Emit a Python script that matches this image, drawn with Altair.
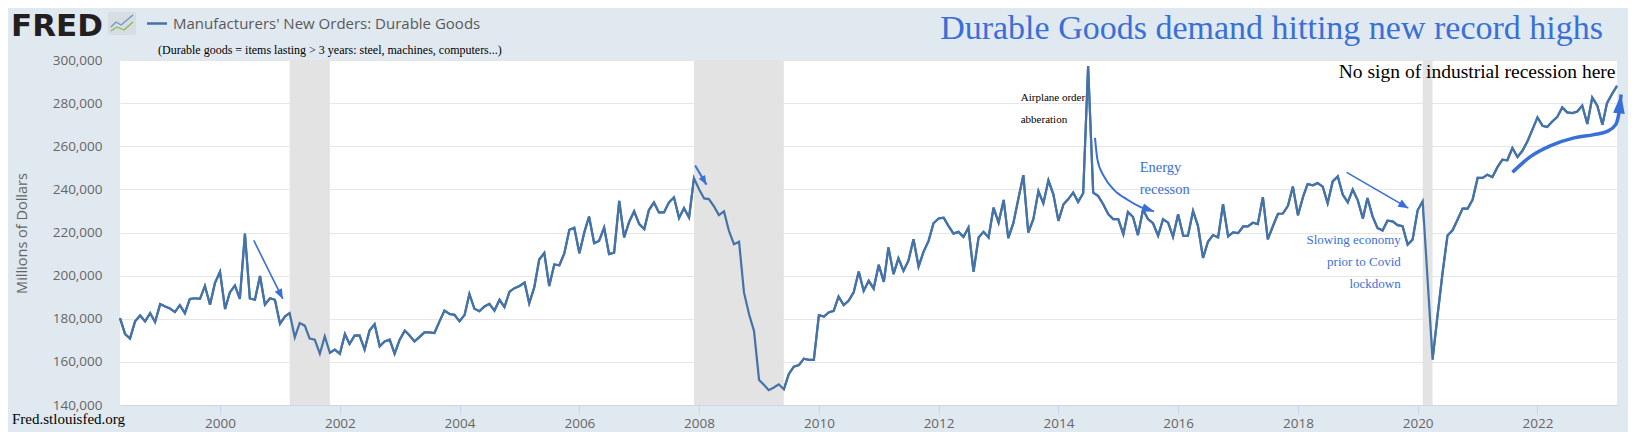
import math
import altair as alt
import pandas as pd

# ---------------- data (thousands of millions of dollars, monthly, SA) ----------------
v1998 = [180.3, 172.9, 170.8, 178.8, 181.5, 178.8, 182.6, 178.5]  # May-Dec
v1999 = [186.8, 185.7, 184.8, 183.1, 186.3, 182.6, 189.2, 189.5, 189.2, 195.2, 186.5, 196.5]
v2000 = [201.8, 184.5, 192.2, 195.4, 189.2, 219.5, 189.4, 188.8, 199.8, 186.5, 189.5, 188.8]
v2001 = [177.7, 181.1, 182.6, 171.4, 178.0, 176.8, 170.8, 170.3, 163.8, 171.8, 164.2, 165.7]
v2002 = [163.7, 172.9, 168.3, 172.2, 172.3, 165.7, 174.5, 177.5, 167.2, 169.5, 170.3, 163.8]
v2003 = [170.3, 174.5, 172.3, 169.5, 171.5, 173.7, 173.7, 173.4, 178.8, 183.8, 182.2, 181.8]
v2004 = [178.8, 181.8, 191.5, 184.6, 183.5, 185.7, 186.9, 183.8, 188.8, 185.4, 192.6, 194.2]
v2005 = [195.2, 196.8, 187.2, 194.6, 207.5, 210.5, 195.2, 205.2, 204.8, 210.3, 221.3, 222.2]
v2006 = [210.4, 220.3, 227.4, 215.1, 216.1, 222.3, 210.0, 210.7, 234.7, 217.7, 225.0, 229.8]
v2007 = [223.9, 221.6, 230.4, 233.9, 229.3, 229.3, 233.9, 236.3, 226.7, 231.3, 227.0, 245.2]
v2008 = [240.1, 235.8, 235.5, 232.1, 228.1, 229.8, 220.8, 214.6, 215.7, 192.2, 182.1, 174.4]
v2009 = [151.6, 149.3, 146.9, 148.1, 149.6, 147.3, 154.3, 157.8, 158.5, 161.5, 160.9, 160.9]
v2010 = [181.7, 181.0, 182.9, 183.7, 190.3, 186.3, 188.3, 192.2, 201.9, 192.9, 197.6, 194.0]
v2011 = [205.0, 197.1, 213.1, 200.7, 208.0, 202.2, 206.9, 216.9, 204.2, 211.0, 216.1, 224.3]
v2012 = [226.5, 226.9, 223.1, 219.5, 220.3, 218.0, 222.3, 201.8, 217.7, 220.3, 217.7, 231.5]
v2013 = [224.6, 235.1, 217.4, 224.3, 235.4, 246.6, 220.0, 226.2, 239.2, 233.5, 244.2, 237.7]
v2014 = [225.4, 233.1, 235.4, 238.5, 234.2, 238.2, 297.2, 238.5, 236.9, 233.1, 228.5, 226.2]
v2015 = [226.2, 219.2, 229.5, 227.2, 218.8, 230.5, 226.2, 224.3, 218.5, 226.2, 224.6, 218.0]
v2016 = [228.5, 218.5, 218.5, 230.0, 223.1, 208.2, 215.7, 218.8, 217.7, 233.1, 218.2, 220.0]
v2017 = [219.7, 222.8, 222.8, 224.5, 223.9, 236.4, 216.8, 222.9, 228.7, 228.8, 232.4, 241.3]
v2018 = [228.0, 236.5, 242.5, 241.9, 242.9, 241.3, 233.6, 243.7, 246.0, 237.6, 234.0, 239.9]
v2019 = [234.9, 226.5, 236.0, 227.5, 222.1, 220.9, 225.5, 225.2, 223.4, 222.9, 214.4, 216.7]
v2020 = [230.3, 234.5, 199.0, 161.0, 181.2, 201.3, 218.6, 221.0, 226.0, 231.1, 231.1, 235.2]
v2021 = [245.3, 245.3, 246.8, 245.7, 250.2, 253.8, 253.5, 259.2, 255.0, 257.9, 262.3, 267.7]
v2022 = [273.4, 269.5, 268.9, 271.5, 273.5, 278.0, 275.7, 275.4, 276.1, 278.9, 270.3, 282.6]
v2023 = [278.8, 270.0, 280.0, 284.3, 288.0]  # Jan-May

series_k = (v1998 + v1999 + v2000 + v2001 + v2002 + v2003 + v2004 + v2005 + v2006
            + v2007 + v2008 + v2009 + v2010 + v2011 + v2012 + v2013 + v2014 + v2015
            + v2016 + v2017 + v2018 + v2019 + v2020 + v2021 + v2022 + v2023)
first_month = "1998-05-01"

# recessions (NBER shading)
rec_start = ["2001-03-01", "2007-12-01", "2020-02-01"]
rec_end = ["2001-11-01", "2009-06-01", "2020-04-01"]

# tick values
y_ticks = [140000, 160000, 180000, 200000, 220000, 240000, 260000, 280000, 300000]
x_tick_years = [2000, 2002, 2004, 2006, 2008, 2010, 2012, 2014, 2016, 2018, 2020, 2022]

# annotation texts (anchored in data space)
airplane_lines = ["Airplane order", "abberation"]
airplane_dates = ["2013-05-16", "2013-05-16"]
airplane_vals = [282400, 272000]

energy_lines = ["Energy", "recesson"]
energy_dates = ["2015-05-12", "2015-05-12"]
energy_vals = [249900, 239800]

nosign_lines = ["No sign of industrial recession here"]
nosign_dates = ["2023-04-22"]
nosign_vals = [294500]

slowing_lines = ["Slowing economy", "prior to Covid", "lockdown"]
slowing_dates = ["2019-09-20", "2019-09-20", "2019-09-20"]
slowing_vals = [216600, 206400, 195900]

# hand-drawn arrows (paths in data space, last point is the arrow tip)
arrow1_dates = ["2000-07-25", "2001-01-18"]
arrow1_vals = [216300, 189200]
arrow2_dates = ["2007-12-08", "2008-02-15"]
arrow2_vals = [251100, 242200]
arrow3_dates = ["2014-08-12", "2014-08-27", "2014-10-06", "2014-12-06", "2015-02-26", "2015-05-18", "2015-08-07"]
arrow3_vals = [263900, 253800, 246000, 239800, 235200, 231800, 229800]
arrow4_dates = ["2018-10-25", "2019-11-05"]
arrow4_vals = [247900, 231300]
arrow5_dates = ["2021-08-01", "2021-11-21", "2022-03-23", "2022-08-12", "2022-12-12", "2023-03-03", "2023-04-23", "2023-05-13", "2023-05-26"]
arrow5_vals = [247900, 255300, 260300, 263900, 265400, 266900, 270000, 275500, 284000]

# ---------------- layout / style ----------------
W, H = 1497, 345
DOM0, DOM1 = pd.Timestamp("1998-05-01"), pd.Timestamp("2023-05-01")
YMIN, YMAX = 140000, 300000
BG = "#e1e9f0"
LINE = "#4572a7"
ANNO_BLUE = "#3a6fd8"
GRAY_TXT = "#666666"
SERIF = "Liberation Serif"
SANS = "Open Sans"

dates = pd.date_range(first_month, periods=len(series_k), freq="MS")
df = pd.DataFrame({"date": dates.strftime("%Y-%m-%d"), "value": [v * 1000 for v in series_k]})

xscale = alt.Scale(domain=[alt.DateTime(year=1998, month=5, date=1),
                           alt.DateTime(year=2023, month=5, date=1)])
yscale = alt.Scale(domain=[YMIN, YMAX], nice=False, zero=False)

x_axis = alt.Axis(
    values=[alt.DateTime(year=y, month=1, date=1) for y in x_tick_years],
    format="%Y",
    title=None,
    grid=False,
    labelFont=SANS,
    labelFontSize=13.5,
    labelColor=GRAY_TXT,
    tickColor="#ccd6eb",
    tickSize=9,
    domainColor="#ccd6eb",
    labelPadding=2,
)
y_axis = alt.Axis(
    values=y_ticks,
    format=",d",
    title="Millions of Dollars",
    titleFont=SANS,
    titleFontSize=14.5,
    titleFontWeight="normal",
    titleColor=GRAY_TXT,
    titleAngle=270,
    titleX=-98,
    titleY=173,
    titleAlign="center",
    titleBaseline="middle",
    labelFont=SANS,
    labelFontSize=13.5,
    labelColor=GRAY_TXT,
    labelPadding=18,
    ticks=False,
    domain=False,
    grid=True,
    gridColor="#e6e6e6",
)


def X(field):
    return alt.X(field, scale=xscale, axis=x_axis)


def Y(field):
    return alt.Y(field, scale=yscale, axis=y_axis)


line = alt.Chart(df).mark_line(color=LINE, strokeWidth=2.2).encode(x=X("date:T"), y=Y("value:Q"))

recess = alt.Chart(pd.DataFrame({"start": rec_start, "end": rec_end})).mark_rect(
    color="#e3e3e3"
).encode(x=X("start:T"), x2="end:T")


def anno_text(lines, dts, vals, align, size, color):
    d = pd.DataFrame({"label": lines, "date": dts, "value": vals})
    return alt.Chart(d).mark_text(
        align=align, baseline="middle", font=SERIF, fontSize=size, color=color
    ).encode(x=X("date:T"), y=Y("value:Q"), text="label:N")


def px(d):
    return (pd.Timestamp(d) - DOM0) / (DOM1 - DOM0) * W


def py(v):
    return H * (1 - (v - YMIN) / (YMAX - YMIN))


def arrow(dts, vals, width, head_len, head_ratio, color=ANNO_BLUE, interp="linear"):
    d = pd.DataFrame({"date": dts, "value": vals, "i": list(range(len(dts)))})
    body = alt.Chart(d).mark_line(color=color, strokeWidth=width, interpolate=interp).encode(
        x=X("date:T"), y=Y("value:Q"), order="i:Q"
    )
    dx = px(dts[-1]) - px(dts[-2])
    dy = py(vals[-1]) - py(vals[-2])
    ang = math.degrees(math.atan2(dx, -dy)) % 360
    tip = pd.DataFrame({"date": [dts[-1]], "value": [vals[-1]], "angle": [ang]})
    path = f"M0,0L{-head_ratio / 2},1L{head_ratio / 2},1Z"
    head = alt.Chart(tip).mark_point(
        shape=path, filled=True, opacity=1, color=color, size=(2 * head_len) ** 2, strokeWidth=0
    ).encode(x=X("date:T"), y=Y("value:Q"), angle=alt.Angle("angle:Q", scale=None))
    return [body, head]


def header_text(txt, x, y, font, size, color, weight="normal", align="left", baseline="middle"):
    return alt.Chart(pd.DataFrame({"t": [txt]})).mark_text(
        font=font, fontSize=size, color=color, fontWeight=weight, align=align, baseline=baseline
    ).encode(text="t:N", x=alt.value(x), y=alt.value(y))


def header_rule(x, y, x2, y2, color, width):
    return alt.Chart(pd.DataFrame({"a": [0]})).mark_rule(color=color, strokeWidth=width).encode(
        x=alt.value(x), y=alt.value(y), x2=alt.value(x2), y2=alt.value(y2)
    )


layers = [line, recess, line]
layers.append(anno_text(airplane_lines, airplane_dates, airplane_vals, "left", 11, "black"))
layers.append(anno_text(energy_lines, energy_dates, energy_vals, "left", 14.5, ANNO_BLUE))
layers.append(anno_text(nosign_lines, nosign_dates, nosign_vals, "right", 19.5, "black"))
layers.append(anno_text(slowing_lines, slowing_dates, slowing_vals, "right", 13, ANNO_BLUE))
layers += arrow(arrow1_dates, arrow1_vals, 1.6, 10, 0.8)
layers += arrow(arrow2_dates, arrow2_vals, 2.0, 9, 0.8)
layers += arrow(arrow3_dates, arrow3_vals, 2.0, 12, 0.75, interp="monotone")
layers += arrow(arrow4_dates, arrow4_vals, 1.6, 10, 0.85)
layers += arrow(arrow5_dates, arrow5_vals, 3.5, 19, 0.62, interp="monotone")

# header / footer (plot-relative pixel placement)
layers.append(header_text("FRED", -109, -33, "DejaVu Sans", 31, "#231f20", weight="bold"))
# small FRED graph icon
layers.append(
    alt.Chart(pd.DataFrame({"a": [0]})).mark_rect(
        color="#d8dde2", cornerRadius=2
    ).encode(x=alt.value(-12), x2=alt.value(16), y=alt.value(-48), y2=alt.value(-25))
)
for seg in [(-9, -33, -4, -38), (-4, -38, 1, -35), (1, -35, 13, -45)]:
    layers.append(header_rule(*seg, "#6e94c4", 1.3))
for seg in [(-9, -29, -3, -33), (-3, -33, 4, -30), (4, -30, 13, -38)]:
    layers.append(header_rule(*seg, "#7dba5a", 1.3))
layers.append(header_rule(27, -36.5, 47, -36.5, LINE, 2.5))
layers.append(header_text("Manufacturers' New Orders: Durable Goods", 53, -36.5, SANS, 15, "#595959"))
layers.append(header_text("(Durable goods = items lasting > 3 years: steel, machines, computers...)",
                          38, -10, SERIF, 12, "black"))
layers.append(header_text("Durable Goods demand hitting new record highs", 1483, -20.7, SERIF, 34,
                          ANNO_BLUE, align="right", baseline="alphabetic"))
layers.append(header_text("Fred.stlouisfed.org", -108, 358.5, SERIF, 15, "black"))

chart = alt.layer(*layers).properties(
    width=W,
    height=H,
    padding={"left": 112, "top": 52, "right": 11, "bottom": 27},
    autosize=alt.AutoSizeParams(type="none"),
).configure(background=BG).configure_view(fill="white", stroke=None)

chart.save("out.html", embed_options={"renderer": "svg", "actions": False})
